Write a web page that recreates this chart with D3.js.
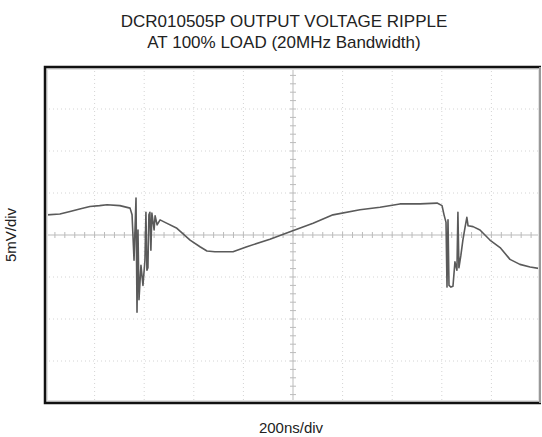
<!DOCTYPE html>
<html>
<head>
<meta charset="utf-8">
<script src="https://cdn.jsdelivr.net/npm/d3@7"></script>
<style>
  body { margin: 0; background: #fff; }
  text { font-family: "Liberation Sans", Arial, sans-serif; fill: #222; }
</style>
</head>
<body>
<svg id="chart" width="542" height="437"></svg>
<script>
// scope settings
var titleLines = ["DCR010505P OUTPUT VOLTAGE RIPPLE", "AT 100% LOAD (20MHz Bandwidth)"];
var xLabel = "200ns/div";
var yLabel = "5mV/div";
var nsPerDiv = 200, xDivs = 10;
var mvPerDiv = 5, yDivs = 8;

// trace: time (ns), voltage (mV)
var timeNs = [8, 60, 101, 140, 181, 220, 250, 302, 343, 351, 359, 367, 371, 375, 379, 387, 395, 403, 407, 411, 415, 419, 423,
  427, 431, 440, 444, 452, 464, 484, 532, 585, 625, 653, 685, 758, 814, 907, 988, 1081, 1161, 1270, 1351,
  1431, 1512, 1581, 1601, 1609, 1617, 1621, 1625, 1629, 1637, 1645, 1653, 1661, 1665, 1669, 1677, 1685, 1693,
  1701, 1706, 1726, 1754, 1794, 1835, 1875, 1915, 1956, 1996];
var voltMv = [2.4, 2.5, 2.8, 3.1, 3.4, 3.5, 3.6, 3.5, 3.2, 2.4, -3.0, 4.4, -9.2, 0.6, -7.7, -3.6, -6.0, -3.0, 2.7, -4.2, -3.9, 2.4, 2.7,
  -1.8, 2.6, 0.6, 2.3, 1.2, 1.8, 1.5, 0.8, -0.6, -1.4, -1.9, -2.0, -2.0, -1.4, -0.5, 0.4, 1.4, 2.4, 3.0, 3.3,
  3.7, 3.7, 3.8, 3.5, 2.4, 1.5, -6.2, 1.8, -6.0, -6.2, -6.1, -3.2, -4.2, 2.7, -3.9, -2.4, -0.6, 0.8,
  2.1, 1.1, 1.0, 0.6, -0.6, -1.5, -2.9, -3.5, -3.8, -4.0];

var svg = d3.select("#chart"),
  margin = {top: 67, right: 1, bottom: 34, left: 45},
  width = +svg.attr("width") - margin.left - margin.right,
  height = +svg.attr("height") - margin.top - margin.bottom;

var x = d3.scaleLinear().domain([0, nsPerDiv * xDivs]).range([0, width]);
var y = d3.scaleLinear().domain([-mvPerDiv * yDivs / 2, mvPerDiv * yDivs / 2]).range([height, 0]);

var g = svg.append("g").attr("transform", "translate(" + margin.left + "," + margin.top + ")");

// title
svg.selectAll(".title")
  .data(titleLines)
  .enter().append("text")
  .attr("class", "title")
  .attr("x", 284)
  .attr("y", function(d, i) { return 27 + i * 21; })
  .attr("text-anchor", "middle")
  .style("font-size", "17px")
  .text(function(d) { return d; });

// dotted graticule
var xTicks = d3.range(1, xDivs).map(function(i) { return i * nsPerDiv; });
var yTicks = d3.range(1, yDivs).map(function(i) { return -mvPerDiv * yDivs / 2 + i * mvPerDiv; });

g.selectAll(".vgrid")
  .data(xTicks)
  .enter().append("line")
  .attr("x1", function(d) { return x(d); })
  .attr("x2", function(d) { return x(d); })
  .attr("y1", 0).attr("y2", height)
  .attr("stroke", function(d) { return d == nsPerDiv * xDivs / 2 ? "#bbb" : "#d4d4d4"; })
  .attr("stroke-width", 1)
  .attr("stroke-dasharray", function(d) { return d == nsPerDiv * xDivs / 2 ? null : "1,3"; });

g.selectAll(".hgrid")
  .data(yTicks)
  .enter().append("line")
  .attr("y1", function(d) { return y(d); })
  .attr("y2", function(d) { return y(d); })
  .attr("x1", 0).attr("x2", width)
  .attr("stroke", function(d) { return d == 0 ? "#bbb" : "#d4d4d4"; })
  .attr("stroke-width", 1)
  .attr("stroke-dasharray", function(d) { return d == 0 ? null : "1,3"; });

// minor ticks on the centre lines
var xMinor = d3.range(1, xDivs * 5).map(function(i) { return i * nsPerDiv / 5; });
var yMinor = d3.range(1, yDivs * 5).map(function(i) { return -mvPerDiv * yDivs / 2 + i * mvPerDiv / 5; });

g.selectAll(".xminor")
  .data(xMinor)
  .enter().append("line")
  .attr("x1", function(d) { return x(d); })
  .attr("x2", function(d) { return x(d); })
  .attr("y1", y(0) - 3).attr("y2", y(0) + 3)
  .attr("stroke", "#bbb");

g.selectAll(".yminor")
  .data(yMinor)
  .enter().append("line")
  .attr("y1", function(d) { return y(d); })
  .attr("y2", function(d) { return y(d); })
  .attr("x1", x(nsPerDiv * xDivs / 2) - 3).attr("x2", x(nsPerDiv * xDivs / 2) + 3)
  .attr("stroke", "#bbb");

// trace
var trace = timeNs.map(function(t, i) { return [t, voltMv[i]]; });
g.append("path")
  .datum(trace)
  .attr("fill", "none")
  .attr("stroke", "#5a5a5a")
  .attr("stroke-width", 1.6)
  .attr("stroke-linejoin", "round")
  .attr("d", d3.line()
    .x(function(d) { return x(d[0]); })
    .y(function(d) { return y(d[1]); }));

// frame with a soft inner edge
g.append("rect")
  .attr("x", 2).attr("y", 2)
  .attr("width", width - 4).attr("height", height - 4)
  .attr("fill", "none").attr("stroke", "#e2e2e2").attr("stroke-width", 2);
g.append("path")
  .attr("d", "M" + width + ",0H0V" + height + "H" + width)
  .attr("fill", "none").attr("stroke", "#111").attr("stroke-width", 2.5);
g.append("line")
  .attr("x1", width - 1).attr("x2", width - 1).attr("y1", 0).attr("y2", height)
  .attr("stroke", "#999").attr("stroke-width", 2);

// axis labels
svg.append("text")
  .attr("x", margin.left + width / 2 - 2)
  .attr("y", 433)
  .attr("text-anchor", "middle")
  .style("font-size", "15px")
  .text(xLabel);

svg.append("text")
  .attr("transform", "translate(16," + (margin.top + height / 2) + ") rotate(-90)")
  .attr("text-anchor", "middle")
  .style("font-size", "15px")
  .text(yLabel);
</script>
</body>
</html>
